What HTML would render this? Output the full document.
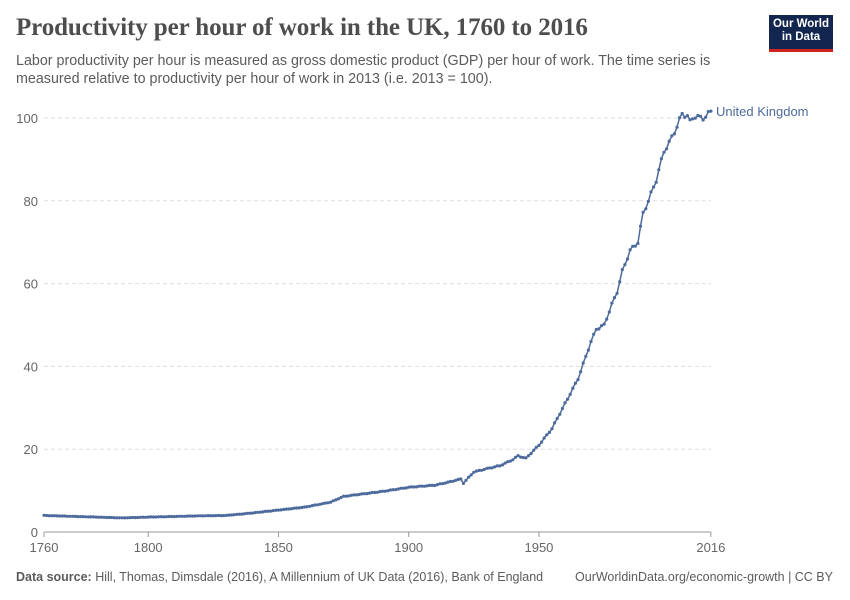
<!DOCTYPE html>
<html><head><meta charset="utf-8">
<style>
body{margin:0;background:#fff;font-family:"Liberation Sans",sans-serif;}
.wrap{position:relative;width:850px;height:600px;overflow:hidden}
h1{position:absolute;left:16px;top:14px;margin:0;font-family:"Liberation Serif",serif;font-size:25px;font-weight:bold;color:#4d4d4d;letter-spacing:-0.1px}
.sub{position:absolute;left:16px;top:52px;width:730px;font-size:14.3px;line-height:18px;color:#5b5b5b}
.logo{position:absolute;left:769px;top:15px;width:64px;height:37px;background:#12264f;border-bottom:3px solid #ce261e;color:#fff;font-size:11.5px;font-weight:bold;line-height:13px;text-align:center;padding-top:3px;box-sizing:border-box}
.foot{position:absolute;left:16px;top:570px;font-size:12.5px;color:#5b5b5b}
.foot2{position:absolute;right:17px;top:570px;font-size:12.5px;color:#5b5b5b}
</style></head><body><div class="wrap">
<h1>Productivity per hour of work in the UK, 1760 to 2016</h1>
<div class="sub">Labor productivity per hour is measured as gross domestic product (GDP) per hour of work. The time series is measured relative to productivity per hour of work in 2013 (i.e. 2013 = 100).</div>
<div class="logo">Our World<br>in Data</div>
<svg id="s" width="850" height="600" style="position:absolute;left:0;top:0"></svg>
<div class="foot"><b>Data source:</b> Hill, Thomas, Dimsdale (2016), A Millennium of UK Data (2016), Bank of England</div>
<div class="foot2">OurWorldinData.org/economic-growth | CC BY</div>
</div>
<script>
var s=document.getElementById('s'),h='';
function X(y){return 44+(y-1760)*2.605}
function Y(v){return 532-v*4.14}
[20,40,60,80,100].forEach(function(v){h+='<line x1="44" x2="711" y1="'+Y(v)+'" y2="'+Y(v)+'" stroke="#ddd" stroke-dasharray="4,3"/>';});
h+='<line x1="44" x2="711" y1="532" y2="532" stroke="#999"/>';
[0,20,40,60,80,100].forEach(function(v){h+='<text x="38" y="'+(Y(v)+5)+'" text-anchor="end" font-size="13" fill="#666">'+v+'</text>';});
[[1760,'1760'],[1800,'1800'],[1850,'1850'],[1900,'1900'],[1950,'1950'],[2016,'2016']].forEach(function(t){h+='<line x1="'+X(t[0])+'" x2="'+X(t[0])+'" y1="532" y2="537" stroke="#999"/><text x="'+X(t[0])+'" y="552" text-anchor="middle" font-size="13" fill="#666">'+t[1]+'</text>';});
var k=[[1760,4],[1780,3.6],[1790,3.4],[1800,3.6],[1820,3.9],[1830,4],[1840,4.6],[1850,5.3],[1860,6],[1870,7.2],[1875,8.6],[1880,9],[1890,9.8],[1900,10.8],[1910,11.3],[1915,12],[1920,12.8],[1921,11.8],[1925,14.5],[1930,15.3],[1935,16],[1940,17.5],[1942,18.4],[1945,17.8],[1950,21],[1955,25],[1960,31],[1965,37],[1970,46],[1972,49],[1975,50],[1978,55],[1980,58],[1982,63],[1985,68],[1988,70],[1990,77],[1992,80],[1995,85],[1998,92],[2000,94],[2003,98],[2005,101],[2007,100.5],[2008,99],[2009,100],[2010,100.5],[2012,100],[2013,100],[2016,101.5]];
var pts=[];for(var y=1760;y<=2016;y++){for(var i=0;i<k.length-1;i++){if(y>=k[i][0]&&y<=k[i+1][0]){var t=(y-k[i][0])/(k[i+1][0]-k[i][0]);var v=k[i][1]+t*(k[i+1][1]-k[i][1]);v*=1+0.006*Math.sin(y*1.7);pts.push([X(y),Y(v)]);break;}}}
h+='<polyline fill="none" stroke="#4c6a9c" stroke-width="1.5" points="'+pts.map(function(p){return p[0].toFixed(1)+','+p[1].toFixed(1)}).join(' ')+'"/>';
pts.forEach(function(p){h+='<circle cx="'+p[0].toFixed(1)+'" cy="'+p[1].toFixed(1)+'" r="1.6" fill="#4c6a9c"/>';});
h+='<text x="716" y="116" font-size="13" fill="#4c6a9c">United Kingdom</text>';
s.innerHTML=h;
</script>
</body></html>
